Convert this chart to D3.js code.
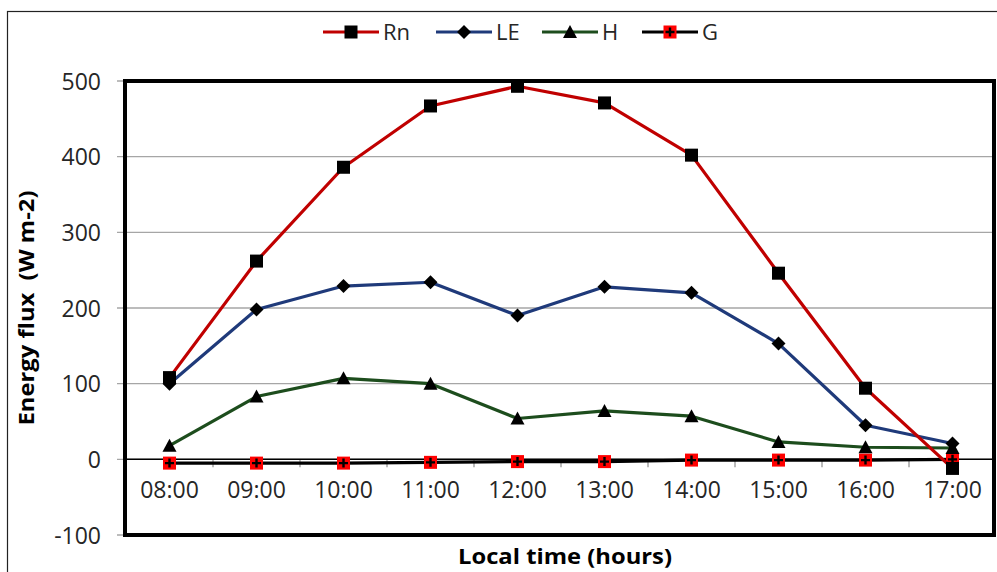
<!DOCTYPE html>
<html>
<head>
<meta charset="utf-8">
<script src="https://cdn.jsdelivr.net/npm/d3@7"></script>
<style>
  body { margin: 0; background: #fff; }
  svg { display: block; font-family: "Open Sans", sans-serif; }
</style>
</head>
<body>
<script>
// chart values
var hours = ["08:00", "09:00", "10:00", "11:00", "12:00", "13:00", "14:00", "15:00", "16:00", "17:00"];
var rn = [108, 262, 386, 467, 493, 471, 402, 246, 94, -12];
var le = [100, 198, 229, 234, 190, 228, 220, 153, 45, 21];
var h = [18, 83, 107, 100, 54, 64, 57, 23, 16, 15];
var g = [-5, -5, -5, -4, -3, -3, -1, -1, -1, 0];
var yTicks = [-100, 0, 100, 200, 300, 400, 500];

var series = [
  { name: "Rn", values: rn, color: "#c00000", marker: "square" },
  { name: "LE", values: le, color: "#1f3a7a", marker: "diamond" },
  { name: "H", values: h, color: "#1d4d1d", marker: "triangle" },
  { name: "G", values: g, color: "#000000", marker: "plus" }
];

var width = 997, height = 572;
var plot = { left: 125, right: 994, top: 81, bottom: 535 };

var svg = d3.select("body").append("svg")
  .attr("width", width)
  .attr("height", height);

// outer frame
svg.append("rect")
  .attr("x", 7.5).attr("y", 11.5)
  .attr("width", width + 10).attr("height", height + 10)
  .attr("fill", "none").attr("stroke", "#222").attr("stroke-width", 1.2);

var x = d3.scaleBand().domain(hours).range([plot.left + 1, plot.right + 2]);
var y = d3.scaleLinear().domain([-100, 500]).range([plot.bottom, plot.top]);

// grid lines
svg.append("g").selectAll("line")
  .data(yTicks)
  .enter().append("line")
  .attr("x1", plot.left - 8).attr("x2", plot.right)
  .attr("y1", function (d) { return y(d); })
  .attr("y2", function (d) { return y(d); })
  .attr("stroke", "#a6a6a6").attr("stroke-width", 1.3);

// y axis labels
var yAxis = d3.axisLeft(y).tickValues(yTicks).tickSize(0).tickPadding(0)
  .tickFormat(function (d) { return String(d); });
var yg = svg.append("g")
  .attr("transform", "translate(" + (plot.left - 24) + ",0)")
  .call(yAxis);
yg.select(".domain").remove();
yg.selectAll("text")
  .attr("font-size", "23px")
  .attr("font-family", "Open Sans, sans-serif")
  .attr("fill", "#262626")
  .attr("dy", "0.36em");

// x axis on the zero line
var xAxis = d3.axisBottom(x).tickSize(0).tickPadding(0);
var xg = svg.append("g")
  .attr("transform", "translate(0," + y(0) + ")")
  .call(xAxis);
xg.select(".domain").remove();
xg.selectAll("text")
  .attr("font-size", "23px")
  .attr("font-family", "Open Sans, sans-serif")
  .attr("fill", "#262626")
  .attr("y", 22);

// tick marks between categories
svg.append("g").selectAll("line")
  .data(hours.slice(1))
  .enter().append("line")
  .attr("x1", function (d) { return x(d); })
  .attr("x2", function (d) { return x(d); })
  .attr("y1", y(0)).attr("y2", y(0) + 8)
  .attr("stroke", "#8c8c8c").attr("stroke-width", 1.2);

svg.append("line")
  .attr("x1", plot.left).attr("x2", plot.right)
  .attr("y1", y(0)).attr("y2", y(0))
  .attr("stroke", "#000").attr("stroke-width", 1.5);

// plot area border
svg.append("rect")
  .attr("x", plot.left).attr("y", plot.top)
  .attr("width", plot.right - plot.left)
  .attr("height", plot.bottom - plot.top)
  .attr("fill", "none").attr("stroke", "#000").attr("stroke-width", 4);

var line = d3.line()
  .x(function (d, i) { return x(hours[i]) + x.bandwidth() / 2; })
  .y(function (d) { return y(d); });

function drawMarker(sel, type) {
  if (type === "square") {
    sel.append("rect").attr("x", -6.5).attr("y", -6.5).attr("width", 13).attr("height", 13).attr("fill", "#000");
  } else if (type === "diamond") {
    sel.append("path").attr("d", "M0,-7L7,0L0,7L-7,0Z").attr("fill", "#000");
  } else if (type === "triangle") {
    sel.append("path").attr("d", "M0,-7L7,6L-7,6Z").attr("fill", "#000");
  } else {
    sel.append("rect").attr("x", -6.5).attr("y", -6.5).attr("width", 13).attr("height", 13).attr("fill", "#ff0000");
    sel.append("path").attr("d", "M-4.5,0H4.5M0,-4.5V4.5").attr("stroke", "#000").attr("stroke-width", 2.4);
  }
}

// series: G first so others sit on top, then H, LE, Rn
series.slice().reverse().forEach(function (s) {
  svg.append("path")
    .datum(s.values)
    .attr("d", line)
    .attr("fill", "none")
    .attr("stroke", s.color)
    .attr("stroke-width", 3.2)
    .attr("stroke-linejoin", "round");

  svg.append("g").selectAll("g")
    .data(s.values)
    .enter().append("g")
    .attr("transform", function (d, i) {
      return "translate(" + (x(hours[i]) + x.bandwidth() / 2) + "," + y(d) + ")";
    })
    .each(function () { drawMarker(d3.select(this), s.marker); });
});

// legend
var legendX = [323, 436, 542, 642];
var legend = svg.append("g").selectAll("g")
  .data(series)
  .enter().append("g")
  .attr("transform", function (d, i) { return "translate(" + legendX[i] + ",32)"; });

legend.append("line")
  .attr("x1", 0).attr("x2", 56)
  .attr("stroke", function (d) { return d.color; })
  .attr("stroke-width", 3);
legend.append("g")
  .attr("transform", "translate(28,0)")
  .each(function (d) { drawMarker(d3.select(this), d.marker); });
legend.append("text")
  .text(function (d) { return d.name; })
  .attr("x", 60)
  .attr("dy", "0.36em")
  .attr("font-size", "22px")
  .attr("fill", "#262626");

// axis titles
svg.append("text")
  .text("Energy flux  (W m-2)")
  .attr("transform", "translate(34,308) rotate(-90)")
  .attr("text-anchor", "middle")
  .attr("font-size", "22px")
  .attr("font-weight", "bold")
  .attr("fill", "#000")
  .attr("textLength", 235)
  .attr("lengthAdjust", "spacingAndGlyphs")
  .style("white-space", "pre");

svg.append("text")
  .text("Local time (hours)")
  .attr("x", 565)
  .attr("y", 564)
  .attr("text-anchor", "middle")
  .attr("font-size", "22px")
  .attr("font-weight", "bold")
  .attr("fill", "#000")
  .attr("textLength", 214)
  .attr("lengthAdjust", "spacingAndGlyphs");
</script>
</body>
</html>
